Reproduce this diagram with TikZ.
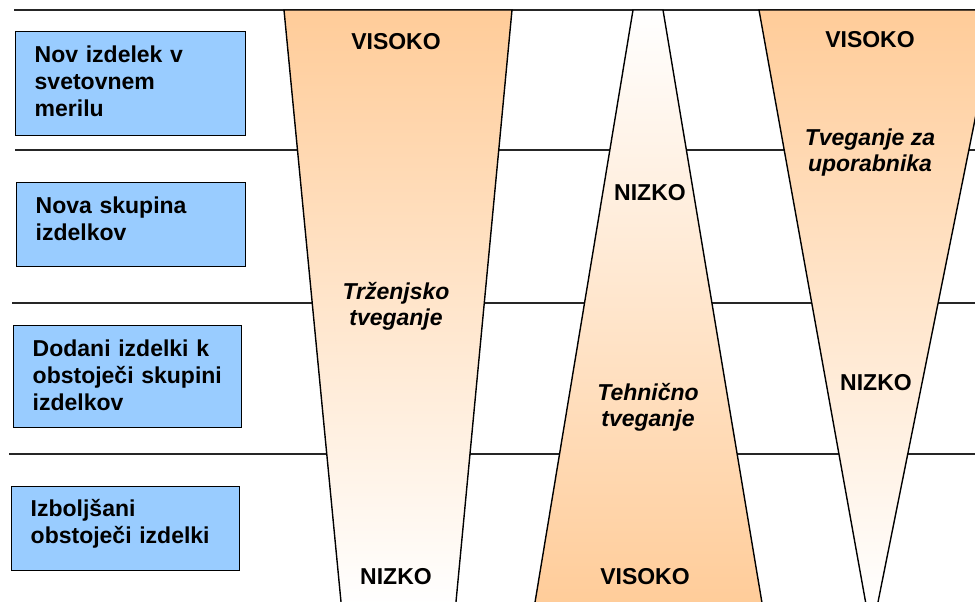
\documentclass[tikz,border=0pt]{standalone}
\usepackage{fontspec}
\setmainfont{Liberation Sans}
\definecolor{boxblue}{RGB}{153,204,255}
\definecolor{peach}{RGB}{255,204,153}
\begin{document}
\begin{tikzpicture}[x=1pt,y=-1pt,
  rule/.style={line width=1.3pt, draw=black!85},
  funnel/.style={line width=1.4pt, draw=black},
  catbox/.style={draw=black, line width=1.4pt, fill=boxblue, anchor=north west,
    inner xsep=19pt, inner ysep=0pt, align=left,
    font=\fontsize{23}{27}\selectfont\bfseries},
  level/.style={font=\fontsize{23}{27}\selectfont\bfseries, inner sep=0pt},
  risk/.style={font=\fontsize{23}{26}\selectfont\bfseries\itshape, align=center, inner sep=0pt},
]
\useasboundingbox (0,0) rectangle (975,602);
\clip (0,0) rectangle (975,602);

% row separators
\draw[rule] (14,10)  -- (975,10);
\draw[rule] (15,150) -- (975,150);
\draw[rule] (12,303) -- (975,303);
\draw[rule] (9,454)  -- (975,454);

% market risk: high at the top, low at the bottom
\fill[top color=peach, bottom color=white] (284,10) -- (512,10) -- (455.6,606) -- (341.4,606) -- cycle;
\draw[funnel] (284,10) -- (512,10) -- (455.6,606) -- (341.4,606) -- cycle;

% technical risk: low at the top, high at the bottom
\fill[top color=white, bottom color=peach] (633,10) -- (663,10) -- (762.5,606) -- (534.4,606) -- cycle;
\draw[funnel] (633,10) -- (663,10) -- (762.5,606) -- (534.4,606) -- cycle;

% user risk: high at the top, low further down
\fill[top color=peach, bottom color=white] (759,10) -- (997,10) -- (877.2,606) -- (866.3,606) -- cycle;
\draw[funnel] (759,10) -- (997,10) -- (877.2,606) -- (866.3,606) -- cycle;

% product categories (a slightly larger text depth lifts the text inside each box)
\node[catbox, text width=192pt, minimum height=104pt, text depth=60pt] (b1) at (15,31)  {Nov izdelek v\\svetovnem\\merilu};
\node[catbox, text width=191pt, minimum height=84pt,  text depth=39pt] (b2) at (16,182) {Nova skupina\\izdelkov};
\node[catbox, text width=190pt, minimum height=102pt, text depth=58pt] (b3) at (13,325) {Dodani izdelki k\\obstoječi skupini\\izdelkov};
\node[catbox, text width=190pt, minimum height=84pt,  text depth=42pt] (b4) at (11,486) {Izboljšani\\obstoječi izdelki};

% market risk labels
\node[level] (mhigh) at (396,42)  {VISOKO};
\node[risk]  (mname) at (396,306) {Trženjsko\\tveganje};
\node[level] (mlow)  at (396,577) {NIZKO};

% technical risk labels
\node[level] (tlow)  at (650,193) {NIZKO};
\node[risk]  (tname) at (648,407) {Tehnično\\tveganje};
\node[level] (thigh) at (645,577) {VISOKO};

% user risk labels
\node[level] (uhigh) at (870,40)  {VISOKO};
\node[risk]  (uname) at (870,153) {Tveganje za\\uporabnika};
\node[level] (ulow)  at (876,383) {NIZKO};
\end{tikzpicture}
\end{document}
